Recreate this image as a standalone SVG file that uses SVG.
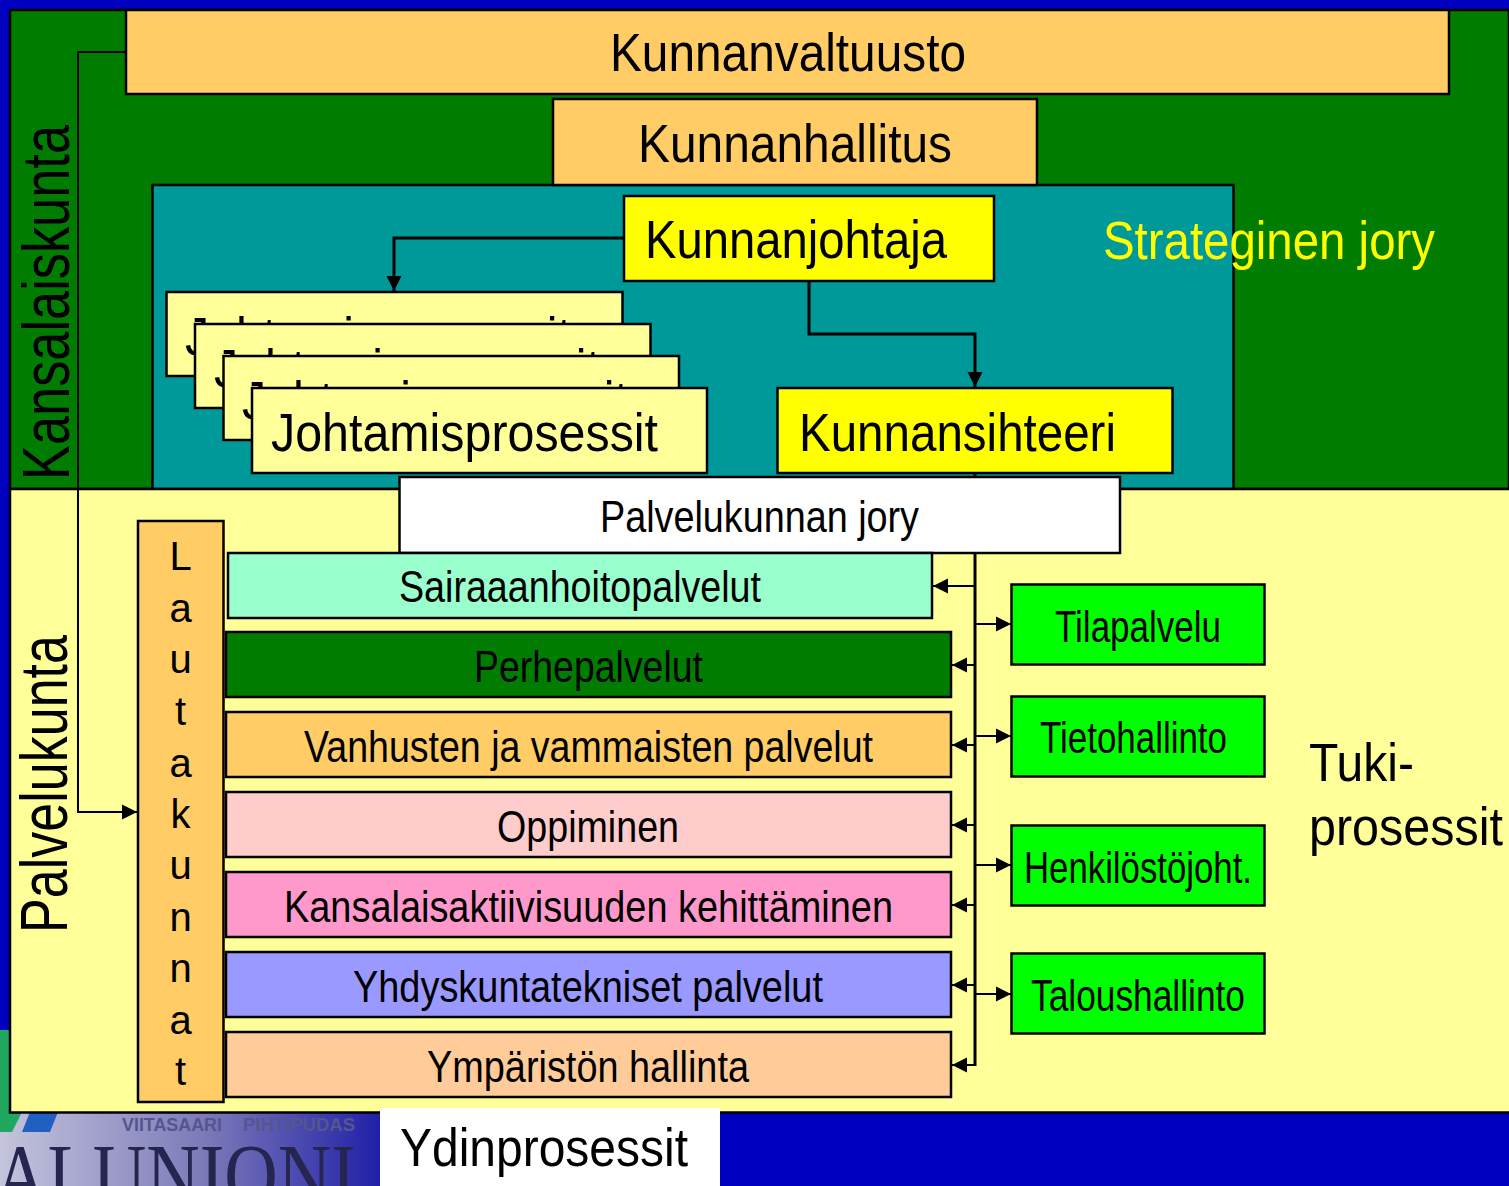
<svg xmlns="http://www.w3.org/2000/svg" width="1509" height="1186" viewBox="0 0 1509 1186">
<defs>
<marker id="ah" markerUnits="userSpaceOnUse" markerWidth="16" markerHeight="16" refX="15" refY="8" orient="auto"><path d="M0 0.5L15 8L0 15.5z" fill="#000"/></marker>
<linearGradient id="logo" x1="0" x2="1" y1="0" y2="0"><stop offset="0" stop-color="#c4c4dc"/><stop offset="0.55" stop-color="#7a78b8"/><stop offset="1" stop-color="#2020a8"/></linearGradient>
<clipPath id="logoclip"><rect x="0" y="1030" width="380" height="156"/></clipPath>
</defs>
<style>
text{font-family:"Liberation Sans",Arial,sans-serif;fill:#000}
.b{stroke:#000;stroke-width:2.5}
.c{fill:none;stroke:#000;stroke-width:3}
.a{fill:none;stroke:#000;stroke-width:2;marker-end:url(#ah)}
.u{stroke-width:3}
.t{font-size:54px}
.m{font-size:44px}
</style>
<rect width="1509" height="1186" fill="#0000c0"/>
<g id="logo-area" clip-path="url(#logoclip)">
<rect x="0" y="1030" width="380" height="156" fill="url(#logo)"/>
<path d="M0 1030H10V1112H22L12 1132H0z" fill="#20a860"/>
<path d="M30 1112H58L50 1132H22z" fill="#2060c0"/>
<text x="122" y="1131" font-size="19" font-weight="bold" style="fill:#55558f" textLength="100" lengthAdjust="spacingAndGlyphs">VIITASAARI</text>
<text x="243" y="1131" font-size="19" font-weight="bold" style="fill:#55558f" textLength="112" lengthAdjust="spacingAndGlyphs">PIHTIPUDAS</text>
<text x="-6" y="1205" font-size="88" style="font-family:'Liberation Serif',serif;fill:#25254f" textLength="362" lengthAdjust="spacingAndGlyphs">ALUNIONI</text>
</g>
<rect id="region-green" x="10" y="10" width="1499" height="479" fill="#007d00" class="b"/>
<rect id="region-teal" x="152.500" y="185" width="1081" height="304" fill="#009999" class="b"/>
<rect id="region-yellow" x="10" y="489" width="1505" height="623.500" fill="#ffff99" class="b"/>
<g id="connectors">
<path class="a" d="M126 52H78V812H137"/>
<path class="a u" d="M624 238H394V291"/>
<path class="a u" d="M809 281V334H975V387"/>
<path class="c" d="M975 473V1066"/>
<path class="a" d="M975 586H933"/><path class="a" d="M975 665H952"/><path class="a" d="M975 745H952"/><path class="a" d="M975 825H952"/><path class="a" d="M975 905H952"/><path class="a" d="M975 985H952"/><path class="a" d="M975 1065H952"/>
<path class="a" d="M975 624H1011"/><path class="a" d="M975 736H1011"/><path class="a" d="M975 865H1011"/><path class="a" d="M975 994H1011"/>
</g>
<g id="n-valtuusto"><rect class="b" x="126" y="10" width="1323" height="84" fill="#ffcc66"/><text class="t" x="610" y="71" textLength="356" lengthAdjust="spacingAndGlyphs">Kunnanvaltuusto</text></g>
<g id="n-hallitus"><rect class="b" x="553" y="99" width="484" height="86" fill="#ffcc66"/><text class="t" x="638" y="162" textLength="314" lengthAdjust="spacingAndGlyphs">Kunnanhallitus</text></g>
<g id="n-johtaja"><rect class="b" x="624" y="196" width="370" height="85" fill="#ffff00"/><text class="t" x="645" y="258" textLength="302" lengthAdjust="spacingAndGlyphs">Kunnanjohtaja</text></g>
<text id="l-strateginen" class="t" x="1103" y="259" style="fill:#ffff00" textLength="332" lengthAdjust="spacingAndGlyphs">Strateginen jory</text>
<g id="n-prosessit1"><rect class="b" x="166.500" y="292" width="456" height="84" fill="#ffff99"/><text class="t" x="185" y="355" textLength="386" lengthAdjust="spacingAndGlyphs">Johtamisprosessit</text></g>
<g id="n-prosessit2"><rect class="b" x="195" y="324" width="455.500" height="84" fill="#ffff99"/><text class="t" x="214" y="387" textLength="386" lengthAdjust="spacingAndGlyphs">Johtamisprosessit</text></g>
<g id="n-prosessit3"><rect class="b" x="223.500" y="356" width="455.500" height="84" fill="#ffff99"/><text class="t" x="242" y="419" textLength="386" lengthAdjust="spacingAndGlyphs">Johtamisprosessit</text></g>
<g id="n-prosessit4"><rect class="b" x="252" y="388" width="455" height="85" fill="#ffff99"/><text class="t" x="271" y="451" textLength="387" lengthAdjust="spacingAndGlyphs">Johtamisprosessit</text></g>
<g id="n-sihteeri"><rect class="b" x="777.500" y="388" width="395" height="85" fill="#ffff00"/><text class="t" x="799" y="451" textLength="317" lengthAdjust="spacingAndGlyphs">Kunnansihteeri</text></g>
<g id="n-jory"><rect class="b" x="399.500" y="477" width="720.500" height="76" fill="#fff"/><text class="m" x="600" y="532" textLength="319" lengthAdjust="spacingAndGlyphs">Palvelukunnan jory</text></g>
<g id="n-lautakunnat"><rect class="b" x="138" y="521" width="85.500" height="581" fill="#ffcc66"/>
<text font-size="40" text-anchor="middle"><tspan x="180.500" y="570">L</tspan><tspan x="180.500" y="622">a</tspan><tspan x="180.500" y="673">u</tspan><tspan x="180.500" y="725">t</tspan><tspan x="180.500" y="777">a</tspan><tspan x="180.500" y="828">k</tspan><tspan x="180.500" y="879">u</tspan><tspan x="180.500" y="931">n</tspan><tspan x="180.500" y="982">n</tspan><tspan x="180.500" y="1034">a</tspan><tspan x="180.500" y="1085">t</tspan></text></g>
<g id="n-sairaanhoito"><rect class="b" x="228" y="553" width="704" height="65" fill="#99ffcc"/><text class="m" x="399" y="602" textLength="362" lengthAdjust="spacingAndGlyphs">Sairaaanhoitopalvelut</text></g>
<g id="n-perhe"><rect class="b" x="226" y="632" width="725" height="65" fill="#007d00"/><text class="m" x="474" y="682" textLength="229" lengthAdjust="spacingAndGlyphs">Perhepalvelut</text></g>
<g id="n-vanhus"><rect class="b" x="226" y="712" width="725" height="65" fill="#ffcc66"/><text class="m" x="304" y="762" textLength="569" lengthAdjust="spacingAndGlyphs">Vanhusten ja vammaisten palvelut</text></g>
<g id="n-oppiminen"><rect class="b" x="226" y="792" width="725" height="65" fill="#ffcccc"/><text class="m" x="497" y="842" textLength="182" lengthAdjust="spacingAndGlyphs">Oppiminen</text></g>
<g id="n-kansalais"><rect class="b" x="226" y="872" width="725" height="65" fill="#ff99cc"/><text class="m" x="284" y="922" textLength="609" lengthAdjust="spacingAndGlyphs">Kansalaisaktiivisuuden kehittäminen</text></g>
<g id="n-yhdys"><rect class="b" x="226" y="952" width="725" height="65" fill="#9999ff"/><text class="m" x="353" y="1002" textLength="470" lengthAdjust="spacingAndGlyphs">Yhdyskuntatekniset palvelut</text></g>
<g id="n-ymparisto"><rect class="b" x="226" y="1032" width="725" height="65" fill="#ffcc99"/><text class="m" x="427" y="1082" textLength="322" lengthAdjust="spacingAndGlyphs">Ympäristön hallinta</text></g>
<g id="n-tila"><rect class="b" x="1011.500" y="584.500" width="253" height="80" fill="#00ff00"/><text class="m" x="1055" y="642" textLength="166" lengthAdjust="spacingAndGlyphs">Tilapalvelu</text></g>
<g id="n-tieto"><rect class="b" x="1011.500" y="696.500" width="253" height="80" fill="#00ff00"/><text class="m" x="1040" y="753" textLength="187" lengthAdjust="spacingAndGlyphs">Tietohallinto</text></g>
<g id="n-henkilo"><rect class="b" x="1011.500" y="825.500" width="253" height="80" fill="#00ff00"/><text class="m" x="1024" y="883" textLength="228" lengthAdjust="spacingAndGlyphs">Henkilöstöjoht.</text></g>
<g id="n-talous"><rect class="b" x="1011.500" y="953.500" width="253" height="80" fill="#00ff00"/><text class="m" x="1031" y="1011" textLength="214" lengthAdjust="spacingAndGlyphs">Taloushallinto</text></g>
<text id="l-tuki" class="t" x="1309" y="781" textLength="105" lengthAdjust="spacingAndGlyphs">Tuki-</text>
<text id="l-prosessit" class="t" x="1309" y="845" textLength="194" lengthAdjust="spacingAndGlyphs">prosessit</text>
<text id="l-kansalaiskunta" font-size="66" transform="translate(69 480) rotate(-90)" textLength="355" lengthAdjust="spacingAndGlyphs">Kansalaiskunta</text>
<text id="l-palvelukunta" font-size="66" transform="translate(67 933) rotate(-90)" textLength="298" lengthAdjust="spacingAndGlyphs">Palvelukunta</text>
<g id="n-ydin"><rect x="380" y="1108" width="340" height="78" fill="#fff"/><text class="t" x="400" y="1166" textLength="288" lengthAdjust="spacingAndGlyphs">Ydinprosessit</text></g>
</svg>
